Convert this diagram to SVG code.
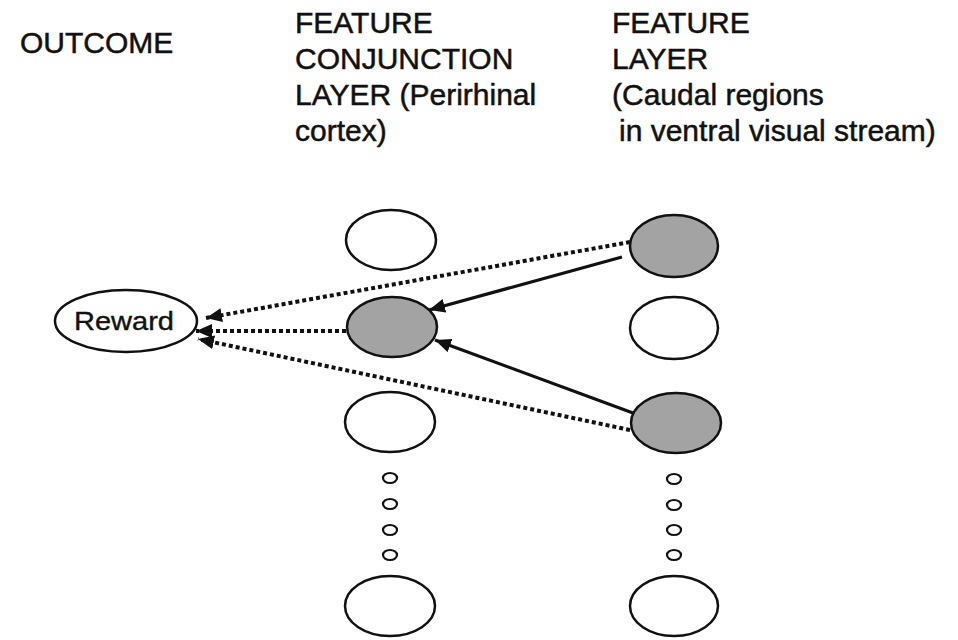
<svg xmlns="http://www.w3.org/2000/svg" width="958" height="640" viewBox="0 0 958 640">
  <style>
    .lbl { font-family: "Liberation Sans", Arial, sans-serif; font-size: 30px; fill: #111; stroke: #111; stroke-width: 0.5; }
    .node { fill: #fff; stroke: #111; stroke-width: 2.5; }
    .on { fill: #a3a3a3; stroke: #111; stroke-width: 2.5; }
    .dot { fill: #fff; stroke: #111; stroke-width: 2.2; }
    .solid { stroke: #111; stroke-width: 3.2; fill: none; }
    .dotted { stroke: #111; stroke-width: 4; stroke-dasharray: 4 3; fill: none; }
  </style>
  <defs>
    <marker id="ah" markerUnits="userSpaceOnUse" markerWidth="18" markerHeight="14" refX="16" refY="7" orient="auto">
      <path d="M0,0 L16,7 L0,14 z" fill="#111"/>
    </marker>
  </defs>
  <rect width="958" height="640" fill="#fff"/>

  <g id="headers">
    <text class="lbl" x="20" y="53">OUTCOME</text>
    <text class="lbl" x="295" y="33">FEATURE</text>
    <text class="lbl" x="295" y="69">CONJUNCTION</text>
    <text class="lbl" x="295" y="105">LAYER (Perirhinal</text>
    <text class="lbl" x="295" y="141">cortex)</text>
    <text class="lbl" x="612" y="33">FEATURE</text>
    <text class="lbl" x="612" y="69">LAYER</text>
    <text class="lbl" x="612" y="105">(Caudal regions</text>
    <text class="lbl" x="619" y="141">in ventral visual stream)</text>
  </g>

  <g id="connectors">
    <line class="dotted" x1="630" y1="242" x2="206" y2="318" marker-end="url(#ah)"/>
    <line class="dotted" x1="346" y1="331" x2="196" y2="331" marker-end="url(#ah)"/>
    <line class="dotted" x1="630" y1="430" x2="198" y2="339" marker-end="url(#ah)"/>
    <line class="solid" x1="622" y1="257" x2="429" y2="310" marker-end="url(#ah)"/>
    <line class="solid" x1="633" y1="413" x2="435" y2="340" marker-end="url(#ah)"/>
  </g>

  <g id="reward">
    <ellipse class="node" cx="126" cy="321" rx="71" ry="31"/>
    <text x="74" y="330" font-family="Liberation Sans, Arial, sans-serif" font-size="26" fill="#111" stroke="#111" stroke-width="0.4" textLength="100" lengthAdjust="spacingAndGlyphs">Reward</text>
  </g>

  <g id="conj-1"><ellipse class="node" cx="391" cy="240" rx="45" ry="30"/></g>
  <g id="conj-2"><ellipse class="on" cx="392" cy="327" rx="45" ry="30"/></g>
  <g id="conj-3"><ellipse class="node" cx="390" cy="422" rx="45" ry="30"/></g>
  <g id="conj-dots">
    <ellipse class="dot" cx="390" cy="478" rx="7" ry="5"/>
    <ellipse class="dot" cx="390" cy="504" rx="7" ry="5"/>
    <ellipse class="dot" cx="390" cy="530" rx="7" ry="5"/>
    <ellipse class="dot" cx="390" cy="555" rx="7" ry="5"/>
  </g>
  <g id="conj-n"><ellipse class="node" cx="390" cy="606" rx="45" ry="30"/></g>

  <g id="feat-1"><ellipse class="on" cx="674" cy="246" rx="44" ry="31"/></g>
  <g id="feat-2"><ellipse class="node" cx="674" cy="328" rx="44" ry="31"/></g>
  <g id="feat-3"><ellipse class="on" cx="676" cy="423" rx="45" ry="30"/></g>
  <g id="feat-dots">
    <ellipse class="dot" cx="674" cy="479" rx="7" ry="5"/>
    <ellipse class="dot" cx="674" cy="505" rx="7" ry="5"/>
    <ellipse class="dot" cx="674" cy="530" rx="7" ry="5"/>
    <ellipse class="dot" cx="674" cy="555" rx="7" ry="5"/>
  </g>
  <g id="feat-n"><ellipse class="node" cx="674" cy="606" rx="44" ry="30"/></g>
</svg>
